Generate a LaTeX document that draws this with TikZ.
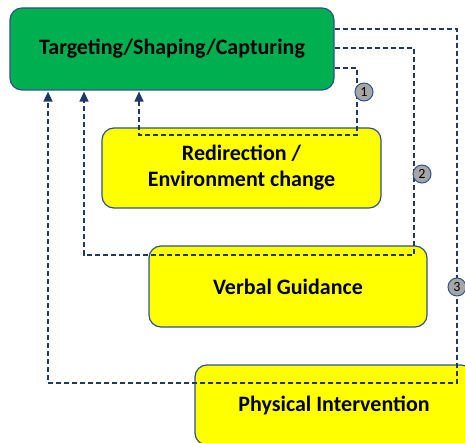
\documentclass[tikz,border=0pt]{standalone}
\usepackage{fontspec}
\setmainfont{Carlito}
\usetikzlibrary{arrows.meta}

\definecolor{boxgreen}{RGB}{0,176,80}
\definecolor{boxyellow}{RGB}{255,255,0}
\definecolor{boxedge}{RGB}{47,82,143}
\definecolor{flowblue}{RGB}{31,56,100}
\definecolor{badgegray}{RGB}{166,166,166}

\tikzset{every picture/.style={line width=0.75pt}}
\tikzset{
  stagebox/.style={draw=boxedge, line width=1.2pt, rounded corners=12pt, align=center,
    font=\fontsize{22}{26}\selectfont\bfseries, inner sep=0pt},
  flow/.style={draw=flowblue, line width=1.4pt, dash pattern=on 5pt off 3pt},
  flowtip/.style={-{Triangle[width=9pt,length=10pt]}},
  badge/.style={circle, draw=boxedge, fill=badgegray, line width=1pt, inner sep=0pt,
    minimum size=18pt, font=\fontsize{14}{14}\selectfont}
}

\begin{document}
\begin{tikzpicture}[x=1pt,y=1pt,yscale=-1,xscale=1]
\useasboundingbox (0,0) rectangle (465,443);

% Boxes
\node [stagebox, fill=boxgreen, minimum width=324pt, minimum height=82pt] (target) at (172,49) {Targeting/Shaping/Capturing};
\node [stagebox, fill=boxyellow, minimum width=279pt, minimum height=80pt] (redir) at (241.5,168) {Redirection /\\Environment change};
\node [stagebox, fill=boxyellow, minimum width=278pt, minimum height=81pt] (verbal) at (288,286.5) {Verbal Guidance};
\node [stagebox, fill=boxyellow, minimum width=278pt, minimum height=80pt] (physical) at (334,405) {Physical Intervention};

% Corners of the loops
\coordinate (c1) at (357,135);
\coordinate (c2) at (414,255);
\coordinate (c3) at (457,383);

%Dashed Lines
\draw [flow, flowtip] ([yshift=19pt]target.east) -| (c1) -| ([yshift=1pt]target.south -| 139,0);
\draw [flow, flowtip] ([yshift=-1pt]target.east) -| (c2) -| ([yshift=1pt]target.south -| 84,0);
\draw [flow, flowtip] ([yshift=-20pt]target.east) -| (c3) -| ([yshift=1pt]target.south -| 48,0);

% Number Nodes
\node [badge] (n1) at (364,92) {1};
\node [badge] (n2) at (422,174) {2};
\node [badge] (n3) at (457,287) {3};

\end{tikzpicture}
\end{document}
